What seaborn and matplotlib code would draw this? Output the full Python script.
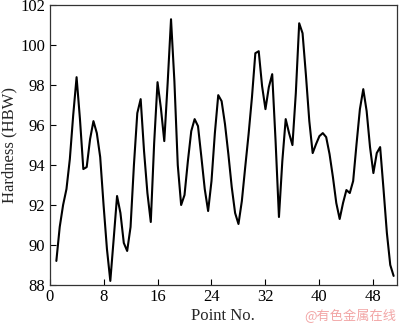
import matplotlib
matplotlib.use("Agg")
import matplotlib.pyplot as plt
import seaborn as sns
import pandas as pd

# Point numbers (at half-point spacing)
point_no = [1, 1.5, 2, 2.5, 3, 3.5, 4, 4.5, 5, 5.5, 6, 6.5, 7, 7.5, 8, 8.5, 9, 9.5,
            10, 10.5, 11, 11.5, 12, 12.5, 13, 13.5, 14, 14.5, 15, 15.5, 16, 16.5,
            17, 17.5, 18, 18.5, 19, 19.5, 20, 20.5, 21, 21.5, 22, 22.5, 23, 23.5,
            24, 24.5, 25, 25.5, 26, 26.5, 27, 27.5, 28, 28.5, 29, 29.5, 30, 30.5,
            31, 31.5, 32, 32.5, 33, 33.5, 34, 34.5, 35, 35.5, 36, 36.5, 37, 37.5,
            38, 38.5, 39, 39.5, 40, 40.5, 41, 41.5, 42, 42.5, 43, 43.5, 44, 44.5,
            45, 45.5, 46, 46.5, 47, 47.5, 48, 48.5, 49, 49.5, 50, 50.5, 51]

hardness = [89.2, 90.9, 92.0, 92.8, 94.3, 96.5, 98.4, 96.3, 93.8, 93.9, 95.3, 96.2,
            95.6, 94.4, 92.0, 89.8, 88.2, 90.3, 92.45, 91.6, 90.1, 89.7, 90.9, 94.0,
            96.6, 97.3, 94.7, 92.6, 91.15, 95.1, 98.15, 96.85, 95.2, 98.1, 101.3, 98.2,
            94.0, 92.0, 92.5, 94.2, 95.7, 96.3, 95.95, 94.4, 92.8, 91.7, 93.2, 95.6,
            97.5, 97.2, 96.05, 94.55, 92.9, 91.6, 91.05, 92.2, 93.9, 95.55, 97.4, 99.6,
            99.7, 97.95, 96.8, 97.9, 98.55, 95.2, 91.4, 94.2, 96.3, 95.6, 95.0, 97.6,
            101.1, 100.6, 98.5, 96.2, 94.6, 95.05, 95.45, 95.6, 95.4, 94.55, 93.4, 92.1,
            91.3, 92.1, 92.75, 92.6, 93.2, 95.05, 96.8, 97.8, 96.7, 94.9, 93.6, 94.6,
            94.9, 92.8, 90.6, 89.0, 88.45]

x_ticks = [0, 8, 16, 24, 32, 40, 48]
y_ticks = [88, 90, 92, 94, 96, 98, 100, 102]
x_label = "Point No."
y_label = "Hardness (HBW)"
watermark = "@有色金属在线"

df = pd.DataFrame({"point": point_no, "hardness": hardness})

sns.set_style("ticks")
plt.rcParams["font.family"] = ["Liberation Serif", "DejaVu Serif"]

fig = plt.figure(figsize=(4.0, 3.29), dpi=100)
ax = fig.add_axes([0.124, 0.134, 0.8685, 0.850])

sns.lineplot(data=df, x="point", y="hardness", ax=ax, color="black",
             linewidth=1.5, sort=False, estimator=None)

ax.set_xlim(0, 51.5)
ax.set_ylim(88, 102)
ax.set_xticks(x_ticks)
ax.set_yticks(y_ticks)
ax.tick_params(direction="in", length=4, width=0.8, labelsize=12, colors="black", pad=3)
for s in ax.spines.values():
    s.set_visible(True)
    s.set_linewidth(0.9)
    s.set_color("#333333")

ax.set_xlabel(x_label, fontsize=12, labelpad=2)
ax.set_ylabel(y_label, fontsize=12, labelpad=2)

fig.text(0.99, 0.018, watermark, ha="right", va="bottom", fontsize=9.5,
         color="#f2a6a6", family=["Noto Sans CJK SC", "DejaVu Sans"])

fig.savefig("out.png", dpi=100)
